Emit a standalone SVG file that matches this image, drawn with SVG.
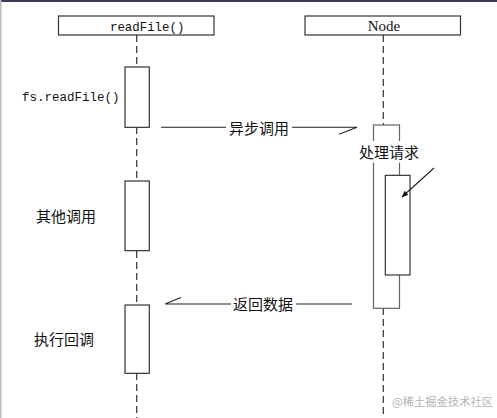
<svg xmlns="http://www.w3.org/2000/svg" width="497" height="418" viewBox="0 0 497 418">
<style>
.box{fill:#fff;stroke:#333;stroke-width:1.2}
.act{fill:#fff;stroke:#222;stroke-width:1.1}
.outer{fill:#fff;stroke:#666;stroke-width:1.2}
.life{stroke:#222;stroke-width:1.1;stroke-dasharray:7 4;fill:none}
.msg{stroke:#222;stroke-width:1.1;fill:none}
.mono{font-family:"Liberation Mono","DejaVu Sans Mono",monospace;fill:#111}
.cjk{font-family:"Noto Sans CJK SC","Noto Sans CJK JP",sans-serif;font-size:15px;fill:#111}
</style>
<defs>
<marker id="tri" viewBox="0 0 10 10" refX="9" refY="5" markerWidth="7" markerHeight="7" orient="auto" markerUnits="userSpaceOnUse">
<path d="M0,1 L10,5 L0,9 z" fill="#111"/>
</marker>
</defs>
<rect x="0" y="0" width="497" height="418" fill="#fff"/>
<rect x="0" y="0" width="497" height="2" fill="#3f3858"/>
<rect x="0" y="0" width="1.5" height="418" fill="#bbb"/>

<g id="lifelines">
<path class="life" d="M136.7,35 V67 M136.7,127 V181 M136.7,251 V305 M136.7,373 V418"/>
<path class="life" d="M383.3,35 V125 M383.3,308 V418"/>
</g>

<g id="readFile">
<rect class="box" x="58.5" y="16" width="155.5" height="19"/>
<text class="mono" x="110" y="30.5" font-size="12.4">readFile()</text>
</g>

<g id="node">
<rect class="box" x="305" y="16" width="155.5" height="19"/>
<text x="384" y="30.7" font-family="Liberation Serif,serif" font-size="15" fill="#111" text-anchor="middle">Node</text>
</g>

<g id="act-readfile">
<rect class="act" x="125" y="67" width="24.3" height="60.3"/>
<text class="mono" x="22" y="101" font-size="12.5">fs.readFile()</text>
</g>

<g id="act-other">
<rect class="act" x="125" y="181" width="24.3" height="69.7"/>
<text class="cjk" x="36" y="222">其他调用</text>
</g>

<g id="act-callback">
<rect class="act" x="125" y="305" width="24.3" height="68.3"/>
<text class="cjk" x="34" y="344.5">执行回调</text>
</g>

<g id="act-node">
<rect class="outer" x="373.5" y="125" width="26" height="183.3"/>
<rect x="357" y="141" width="63" height="21.5" fill="#fff"/>
<text class="cjk" x="359" y="157.5">处理请求</text>
<rect class="act" x="385.3" y="175.3" width="24.7" height="99.7"/>
</g>

<g id="connectors">
<path class="msg" d="M161,127.3 H226 M292,127.3 H357 L339,134.3"/>
<text class="cjk" x="229" y="134">异步调用</text>
<path class="msg" d="M352,304 H296 M231,304 H165 L181,297.5"/>
<text class="cjk" x="233" y="309.5">返回数据</text>
<line class="msg" x1="434" y1="168" x2="402" y2="197" marker-end="url(#tri)"/>
</g>

<text x="392" y="405.5" font-family="Noto Sans CJK SC,sans-serif" font-size="11.3" fill="#b5b5b5">@稀土掘金技术社区</text>
</svg>
